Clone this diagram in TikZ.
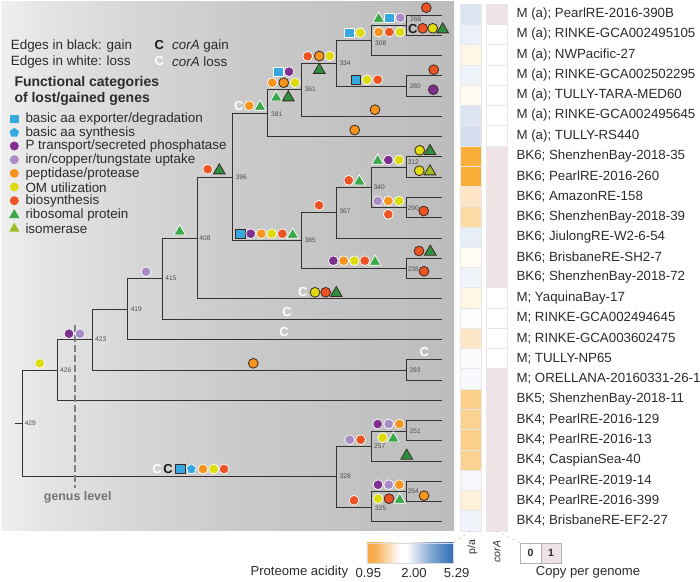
\documentclass[tikz,border=0pt]{standalone}
\usepackage{fontspec}
\setmainfont{Liberation Sans}
\usetikzlibrary{shapes.geometric}
\definecolor{txt}{HTML}{2B2B2B}
\definecolor{edgec}{HTML}{333333}
\definecolor{bor}{HTML}{3A2A20}
\definecolor{cor}{HTML}{F7941E}
\definecolor{cye}{HTML}{DEDC0C}
\definecolor{cre}{HTML}{EE5423}
\definecolor{cpu}{HTML}{7F2F8F}
\definecolor{cli}{HTML}{A98CC6}
\definecolor{cbl}{HTML}{36A9E1}
\definecolor{cgr}{HTML}{3BA94A}
\definecolor{cdg}{HTML}{2F8F40}
\definecolor{cla}{HTML}{9DBB22}
\definecolor{pinkc}{HTML}{EFE3E5}
\definecolor{cbase}{HTML}{2F6DB5}
\pgfdeclarehorizontalshading{bgshade}{100bp}{
 color(0bp)=(white!94!black);
 color(25bp)=(white!94!black);
 color(29bp)=(white!90!black);
 color(40bp)=(white!84!black);
 color(52bp)=(white!79!black);
 color(75bp)=(white!74!black);
 color(100bp)=(white!74!black)}
\pgfdeclarehorizontalshading{acid}{100bp}{
 color(0bp)=(cor!85!white);
 color(25bp)=(cor!85!white);
 color(30bp)=(cor!75!white);
 color(44bp)=(white);
 color(48bp)=(white);
 color(62bp)=(cbase!60!white);
 color(75bp)=(cbase);
 color(100bp)=(cbase)}
\tikzset{
 x=1pt,y=-1pt,
 edge/.style={draw=edgec,line width=1.15pt,line cap=rect},
 wb/.style={draw=white,line width=0.7pt},
 kb/.style={draw=bor,line width=0.8pt},
 dot/.style={circle,inner sep=0pt,minimum size=9.8pt},
 sq/.style={rectangle,inner sep=0pt,minimum size=9.6pt},
 pent/.style={regular polygon,regular polygon sides=5,inner sep=0pt,minimum size=10.5pt},
 tri/.style={regular polygon,regular polygon sides=3,inner sep=0pt,minimum size=13.5pt},
 ltri/.style={regular polygon,regular polygon sides=3,inner sep=0pt,minimum size=12pt},
 num/.style={font=\fontsize{6.6}{7}\selectfont,text=black!70,inner sep=0pt},
 cw/.style={font=\fontsize{13}{13}\bfseries\selectfont,text=white,inner sep=0pt},
 ck/.style={font=\fontsize{13}{13}\bfseries\selectfont,text=black!90,inner sep=0pt},
 leg/.style={anchor=west,font=\fontsize{13.4}{14}\selectfont,text=txt,inner sep=0pt},
 legb/.style={leg,font=\fontsize{14}{14}\bfseries\selectfont},
 tip/.style={anchor=west,font=\fontsize{13.3}{14}\selectfont,text=txt,inner sep=0pt},
 cbt/.style={inner sep=0pt,font=\fontsize{13.1}{14}\selectfont,text=txt},
 cell/.style={draw=black!9,line width=0.4pt,minimum width=21.2pt,minimum height=20.26pt,inner sep=0pt},
}
\newcounter{mk}
\newcommand{\mk}[4]{\stepcounter{mk}\node[#1,#2] (m\themk) at (#3,#4) {};}
\newcommand{\dotw}[3]{\mk{dot,wb,fill=#1}{}{#2}{#3}}
\newcommand{\dotk}[3]{\mk{dot,kb,fill=#1}{}{#2}{#3}}
\newcommand{\sqw}[2]{\mk{sq,wb,fill=cbl}{}{#1}{#2}}
\newcommand{\sqk}[2]{\mk{sq,kb,fill=cbl}{}{#1}{#2}}
\newcommand{\triw}[2]{\mk{tri,wb,fill=cgr}{}{#1}{#2}}
\newcommand{\trik}[2]{\mk{tri,kb,fill=cdg}{}{#1}{#2}}
\newcommand{\tnum}[3]{\node[num] (lab#1) at (#2,#3) {#1};}
\begin{document}
\begin{tikzpicture}
\useasboundingbox (0,0) rectangle (700,581);
\shade[shading=bgshade] (1,1) rectangle (454,530.7);
% tips
\foreach \i in {0,...,25}{\pgfmathsetmacro{\ty}{floor(15+20.28*\i)+0.5}\coordinate (t\i) at (441.5,\ty);}
% internal nodes
\coordinate (root) at (15.5,423.5);
\coordinate (n429) at (22.5,423.5);
\coordinate (n426) at (57.5,370.5);
\coordinate (n423) at (92.5,339.5);
\coordinate (n419) at (127.5,309.5);
\coordinate (n415) at (162.5,278.5);
\coordinate (n408) at (197.5,238.5);
\coordinate (n396) at (232.5,177.5);
\coordinate (n381) at (267.5,113.5);
\coordinate (n361) at (301.5,89.5);
\coordinate (n334) at (336.5,63.5);
\coordinate (n308) at (371.5,40.5);
\coordinate (n268) at (406.5,25.5);
\coordinate (n280) at (406.5,86.5);
\coordinate (n385) at (301.5,240.5);
\coordinate (n367) at (336.5,212.5);
\coordinate (n340) at (371.5,187.5);
\coordinate (n312) at (406.5,167.5);
\coordinate (n290) at (406.5,207.5);
\coordinate (n238) at (406.5,268.5);
\coordinate (n293) at (406.5,370.5);
\coordinate (n328) at (336.5,476.5);
\coordinate (n257) at (371.5,446.5);
\coordinate (n251) at (406.5,431.5);
\coordinate (n325) at (371.5,507.5);
\coordinate (n254) at (406.5,491.5);
\draw[edge] (root) -- (n429);
\foreach \a/\b in {n429/n426,n429/n328,n426/n423,n426/t19,n423/n419,n423/n293,n419/n415,n419/t16,
 n415/n408,n415/t15,n408/n396,n408/t14,n396/n381,n396/n385,n381/n361,n381/t6,n361/n334,n361/t5,
 n334/n308,n334/n280,n308/n268,n308/t2,n268/t0,n268/t1,n280/t3,n280/t4,
 n385/n367,n385/n238,n367/n340,n367/t11,n340/n312,n340/n290,n312/t7,n312/t8,n290/t9,n290/t10,
 n238/t12,n238/t13,n293/t17,n293/t18,n328/n257,n328/n325,n257/n251,n257/t22,n251/t20,n251/t21,
 n325/n254,n325/t25,n254/t23,n254/t24}{\draw[edge] (\a) |- (\b);}
% genus level
\coordinate (gtop) at (75,325);
\coordinate (gbot) at (75,488);
\draw[draw=black!50,line width=1.4pt,dash pattern=on 6.5pt off 3.5pt] (gtop) -- (gbot);
\node[font=\fontsize{12.4}{13}\bfseries\selectfont,text=black!55,inner sep=0pt] (genus) at (77.7,497.3) {genus level};
% branch numbers
\tnum{429}{30.3}{423.7}\tnum{426}{65.7}{370.3}\tnum{423}{100.7}{339.7}\tnum{419}{136.3}{309.3}
\tnum{415}{171}{278.3}\tnum{408}{205}{238.3}\tnum{396}{241.3}{177.7}\tnum{381}{276.7}{114.7}
\tnum{361}{310.3}{89.3}\tnum{334}{345}{63.3}\tnum{308}{380.7}{43}\tnum{268}{415.7}{19.5}
\tnum{280}{415.3}{86.3}\tnum{312}{413.3}{162.3}\tnum{340}{379.3}{187}\tnum{290}{413.3}{208.3}
\tnum{367}{345}{211.7}\tnum{385}{310.3}{240.7}\tnum{238}{413.3}{269.3}\tnum{293}{415}{370}
\tnum{251}{415.3}{431}\tnum{257}{379.7}{446.7}\tnum{328}{345.3}{476}\tnum{254}{413.3}{491.3}\tnum{325}{380.7}{508.3}
% markers: top clade
\dotk{cre}{426.3}{7.7}
\triw{378.7}{18.8}\sqw{389.3}{17.7}\dotw{cli}{400.3}{17.7}
\dotw{cor}{378.7}{32}\dotw{cre}{389.3}{32}\dotw{cye}{400}{32}
\node[ck] (c1) at (412.7,29) {C};
\dotk{cre}{422.7}{28.3}\dotk{cye}{432.7}{28.3}\trik{442.7}{29.5}
\sqw{349.3}{32.7}\dotw{cye}{360.3}{32.7}
\dotw{cre}{307.7}{56.3}\dotk{cor}{319.3}{56}\dotw{cye}{329.7}{56}
\trik{319.3}{70}
\sqw{278.3}{71.7}\dotw{cpu}{289}{71.7}
\dotw{cor}{272.3}{82.7}\dotk{cor}{283.7}{82.7}\dotw{cye}{295}{82.7}
\triw{276.3}{97.5}\trik{288.3}{97.5}
\node[cw] (c2) at (238.7,106) {C};
\dotw{cor}{249.3}{105.7}\triw{260}{106.8}
\dotk{cre}{433.7}{69.7}\dotk{cpu}{433.3}{89.7}
\sqk{356}{79.7}\dotw{cye}{367}{79.7}\dotw{cre}{377.7}{79.7}
\dotk{cor}{375}{109.7}\dotk{cor}{354.7}{130}
% middle clade
\dotk{cye}{419.7}{150.3}\trik{430}{151.2}
\dotk{cye}{419.3}{170.7}\mk{tri,kb,fill=cla}{}{430}{171.5}
\triw{377.7}{160.8}\dotw{cpu}{388.3}{160}\dotw{cye}{399}{160}
\dotw{cre}{348.7}{180.3}\triw{359.3}{181.5}
\dotw{cli}{377.7}{201}\dotw{cor}{388.3}{201}\dotw{cye}{399}{201}
\dotw{cre}{388.3}{214.3}\dotk{cre}{423.7}{211}\dotw{cre}{319}{205.3}
\sqk{240.3}{233.7}\dotw{cpu}{250.7}{233.7}\dotw{cor}{261.3}{233.7}\dotw{cye}{271.7}{233.7}\dotw{cre}{282.3}{233.7}\triw{292.7}{234.8}
\dotk{cre}{419}{251}\trik{430.3}{251.8}
\dotw{cpu}{333.3}{260.7}\dotw{cor}{343.7}{260.7}\dotw{cye}{354.3}{260.7}\dotw{cre}{364.7}{260.7}\triw{375}{261.8}
\dotk{cre}{424}{271.3}
\node[cw] (c3) at (302.7,292) {C};
\dotk{cye}{315}{292.3}\dotk{cre}{325.7}{292.3}\trik{336.3}{293.2}
\dotw{cre}{207.7}{169.3}\trik{219.3}{170.5}\triw{179.7}{231.5}
\dotw{cli}{146}{271.7}\dotw{cpu}{69}{333.7}\dotw{cli}{80}{333.7}\dotw{cye}{39.7}{363.3}
% lower
\node[cw] (c4) at (287,312) {C};
\node[cw] (c5) at (284,332) {C};
\dotk{cor}{253.3}{363.3}
\node[cw] (c6) at (424.3,352.3) {C};
\node[cw] (c7) at (157,469) {C};
\node[ck] (c8) at (168,469) {C};
\sqk{180.3}{469}\mk{pent,wb,fill=cbl}{}{191.3}{469}\dotw{cor}{203}{469}\dotw{cye}{213.7}{469}\dotw{cre}{224}{469}
\dotw{cpu}{377.7}{424}\dotw{cli}{388.7}{424}\dotw{cor}{399.3}{424}
\dotw{cye}{382.7}{437.7}\triw{393.3}{438.5}
\dotw{cli}{349.7}{439.7}\dotw{cre}{360.7}{439.7}
\trik{406.7}{455.8}
\dotw{cpu}{378}{484.7}\dotw{cli}{388.7}{484.7}\dotw{cor}{399.3}{484.7}
\dotk{cor}{424}{495.7}
\dotw{cye}{378}{498.7}\dotk{cre}{389}{498.7}\triw{399.7}{499.8}
\dotw{cre}{354}{500.3}
% legend head
\node[leg] (l1) at (10.7,45.7) {Edges in black: gain};
\node[leg] (l2) at (10.7,62) {Edges in white: loss};
\node[ck] (l3) at (159.3,45.4) {C};
\node[cw] (l4) at (159.3,61) {C};
\node[leg] (l5) at (172,45.7) {\textit{corA} gain};
\node[leg] (l6) at (172,62) {\textit{corA} loss};
\node[legb] (l7) at (14.3,83) {Functional categories};
\node[legb] (l8) at (14.3,99) {of lost/gained genes};
% legend items
\mk{sq,fill=cbl,minimum size=8.5pt}{}{14.3}{119}
\mk{pent,fill=cbl,minimum size=10pt}{}{14.3}{132.7}
\mk{dot,fill=cpu,minimum size=9pt}{}{14.3}{146}
\mk{dot,fill=cli,minimum size=9pt}{}{14.3}{159.7}
\mk{dot,fill=cor,minimum size=9pt}{}{14.3}{173.3}
\mk{dot,fill=cye,minimum size=9pt}{}{14.3}{187}
\mk{dot,fill=cre,minimum size=9pt}{}{14.3}{200.7}
\mk{ltri,fill=cgr}{}{14.3}{215}
\mk{ltri,fill=cla}{}{14.3}{228.7}
\node[leg] (g1) at (25.3,119) {basic aa exporter/degradation};
\node[leg] (g2) at (25.3,132.7) {basic aa synthesis};
\node[leg] (g3) at (25.3,146.3) {P transport/secreted phosphatase};
\node[leg] (g4) at (25.3,160) {iron/copper/tungstate uptake};
\node[leg] (g5) at (25.3,173.6) {peptidase/protease};
\node[leg] (g6) at (25.3,187.3) {OM utilization};
\node[leg] (g7) at (25.3,201) {biosynthesis};
\node[leg] (g8) at (25.3,214.6) {ribosomal protein};
\node[leg] (g9) at (25.3,228.3) {isomerase};
% heatmap and tip names
\newcommand{\hrow}[4]{%
 \definecolor{rowc}{HTML}{#2}%
 \pgfmathsetmacro{\yy}{14.13+20.26*#1}%
 \node[cell,fill=rowc] (pa#1) at (471,\yy) {};
 \node[cell,fill=#3] (ca#1) at (496.3,\yy) {};
 \node[tip] (name#1) at (516.3,\yy) {#4};}
\hrow{0}{DCE4F3}{pinkc}{M (a); PearlRE-2016-390B}
\hrow{1}{EBF0F9}{white}{M (a); RINKE-GCA002495105}
\hrow{2}{FFF6E6}{white}{M (a); NWPacific-27}
\hrow{3}{EEF2F9}{white}{M (a); RINKE-GCA002502295}
\hrow{4}{FFFBF2}{white}{M (a); TULLY-TARA-MED60}
\hrow{5}{DDE4F2}{white}{M (a); RINKE-GCA002495645}
\hrow{6}{D5DEEF}{white}{M (a); TULLY-RS440}
\hrow{7}{F9AE3A}{pinkc}{BK6; ShenzhenBay-2018-35}
\hrow{8}{F9AE3A}{pinkc}{BK6; PearlRE-2016-260}
\hrow{9}{FEE6C6}{pinkc}{BK6; AmazonRE-158}
\hrow{10}{FDD9A4}{pinkc}{BK6; ShenzhenBay-2018-39}
\hrow{11}{E8EEF8}{pinkc}{BK6; JiulongRE-W2-6-54}
\hrow{12}{FFFCF4}{pinkc}{BK6; BrisbaneRE-SH2-7}
\hrow{13}{F1F4FA}{pinkc}{BK6; ShenzhenBay-2018-72}
\hrow{14}{FFF6E5}{white}{M; YaquinaBay-17}
\hrow{15}{FDFDFF}{white}{M; RINKE-GCA002494645}
\hrow{16}{FEE7C6}{white}{M; RINKE-GCA003602475}
\hrow{17}{FBFBFE}{white}{M; TULLY-NP65}
\hrow{18}{F8F9FC}{pinkc}{M; ORELLANA-20160331-26-1}
\hrow{19}{FBCF88}{pinkc}{BK5; ShenzhenBay-2018-11}
\hrow{20}{FBD28F}{pinkc}{BK4; PearlRE-2016-129}
\hrow{21}{FBCF88}{pinkc}{BK4; PearlRE-2016-13}
\hrow{22}{FBD28F}{pinkc}{BK4; CaspianSea-40}
\hrow{23}{F5F7FC}{pinkc}{BK4; PearlRE-2019-14}
\hrow{24}{FEF1DB}{pinkc}{BK4; PearlRE-2016-399}
\hrow{25}{F1F4FA}{pinkc}{BK4; BrisbaneRE-EF2-27}
% bottom legends
\node[inner sep=0pt,minimum width=86.6pt,minimum height=20.6pt,draw=black!15,line width=0.4pt,shading=acid,anchor=north west] (bar) at (366.7,542.7) {};
\node[cbt,anchor=east] (pa) at (348.3,572.5) {Proteome acidity};
\node[cbt] (v1) at (368.3,572.5) {0.95};
\node[cbt] (v2) at (414,572.5) {2.00};
\node[cbt] (v3) at (456.7,572.5) {5.29};
\node[inner sep=0pt,font=\fontsize{10.5}{11}\selectfont,text=txt,rotate=90] (hpa) at (472.3,547) {p/a};
\node[inner sep=0pt,font=\fontsize{10.5}{11}\itshape\selectfont,text=txt,rotate=90] (hco) at (496.7,551.5) {corA};
\node[cell,draw=black!30,minimum width=20.5pt,minimum height=20.6pt,anchor=north west,fill=white] (k0) at (520,542.7) {};
\node[cell,draw=black!30,minimum width=20.5pt,minimum height=20.6pt,anchor=north west,fill=pinkc] (k1) at (540.5,542.7) {};
\node[inner sep=0pt,font=\fontsize{10.5}{11}\bfseries\selectfont,text=txt] (k0t) at (k0) {0};
\node[inner sep=0pt,font=\fontsize{10.5}{11}\bfseries\selectfont,text=txt] (k1t) at (k1) {1};
\node[cbt] (cpg) at (588,572.5) {Copy per genome};
\draw[draw=black!25,line width=0.4pt,dashed] (pa25.south) -- (bar.north east);
\draw[draw=black!25,line width=0.4pt,dashed] (ca25.south) -- (k0.north west);
\end{tikzpicture}
\end{document}
